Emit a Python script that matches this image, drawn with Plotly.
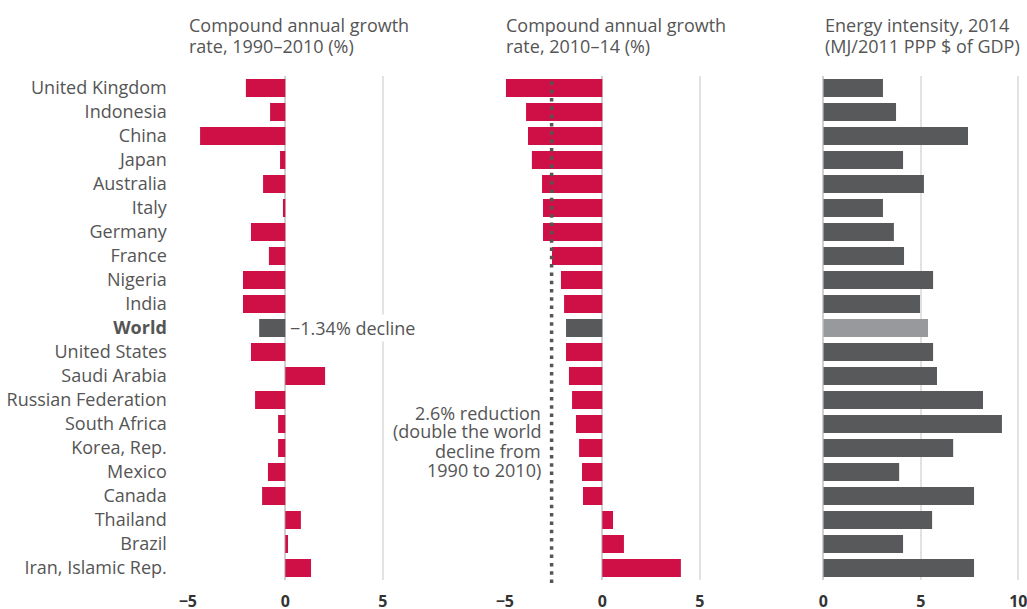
import plotly.graph_objects as go

countries = [
    "United Kingdom", "Indonesia", "China", "Japan", "Australia", "Italy",
    "Germany", "France", "Nigeria", "India", "World", "United States",
    "Saudi Arabia", "Russian Federation", "South Africa", "Korea, Rep.",
    "Mexico", "Canada", "Thailand", "Brazil", "Iran, Islamic Rep.",
]
cagr_1990_2010 = [
    -2.02, -0.78, -4.37, -0.27, -1.14, -0.12, -1.76, -0.84, -2.17, -2.17,
    -1.34, -1.76, 2.04, -1.55, -0.37, -0.37, -0.89, -1.19, 0.80, 0.14, 1.32,
]
cagr_2010_2014 = [
    -4.94, -3.91, -3.81, -3.61, -3.09, -3.04, -3.04, -2.58, -2.12, -1.96,
    -1.86, -1.86, -1.71, -1.55, -1.35, -1.19, -1.04, -0.99, 0.55, 1.11, 4.03,
]
intensity_2014 = [
    3.06, 3.73, 7.42, 4.09, 5.16, 3.06, 3.62, 4.14, 5.63, 4.96,
    5.37, 5.63, 5.83, 8.19, 9.16, 6.66, 3.89, 7.73, 5.58, 4.09, 7.73,
]
target_reduction = -2.6
world_decline = -1.34

headers = [
    ["Compound annual growth", "rate, 1990–2010 (%)"],
    ["Compound annual growth", "rate, 2010–14 (%)"],
    ["Energy intensity, 2014", "(MJ/2011 PPP $ of GDP)"],
]
target_note = ["2.6% reduction", "(double the world", "decline from", "1990 to 2010)"]
tick_vals = [[-5, 0, 5], [-5, 0, 5], [0, 5, 10]]

RED = "#CE1046"
DARK = "#58595B"
LIGHT = "#98999C"
TEXT = "#555555"
FONT = "Open Sans"
FS = 18

W, H = 1027, 609
TOP, BOTTOM = 76, 580          # plot area in pixels
PX_PER_UNIT = 19.5
zeros_px = [285.3, 602.3, 823.3]
ranges = [[-5, 6], [-5, 6], [0, 10.3]]


def domain(i):
    lo = zeros_px[i] + ranges[i][0] * PX_PER_UNIT
    hi = zeros_px[i] + ranges[i][1] * PX_PER_UNIT
    return [lo / W, hi / W]


def py(pixel_y):
    return (BOTTOM - pixel_y) / (BOTTOM - TOP)


def colors(world_color, other):
    return [world_color if c == "World" else other for c in countries]


fig = go.Figure()
for vals, xa, cols in [
    (cagr_1990_2010, "x", colors(DARK, RED)),
    (cagr_2010_2014, "x2", colors(DARK, RED)),
    (intensity_2014, "x3", colors(LIGHT, DARK)),
]:
    fig.add_trace(go.Bar(
        x=vals, y=countries, orientation="h", xaxis=xa, yaxis="y",
        marker=dict(color=cols, line_width=0), width=0.74, hoverinfo="x+y",
    ))

axis_common = dict(
    showgrid=True, gridcolor="#E2E2E2", gridwidth=1.5,
    zeroline=True, zerolinecolor="#D0D0D0", zerolinewidth=1.5,
    showline=False, ticks="", ticklabelstandoff=10, automargin=False,
    ticklabeloverflow="allow",
    tickfont=dict(family=FONT, size=16, color="#333333", weight="bold"),
    fixedrange=True,
)

ticktext = ["<b>World</b>" if c == "World" else c for c in countries]

layout = dict(
    width=W, height=H,
    margin=dict(l=0, r=0, t=TOP, b=H - BOTTOM, autoexpand=False),
    paper_bgcolor="white", plot_bgcolor="white",
    showlegend=False,
    font=dict(family=FONT, color=TEXT, size=FS),
    yaxis=dict(
        categoryorder="array", categoryarray=countries,
        autorange="reversed", showgrid=False, zeroline=False,
        tickmode="array", tickvals=countries, ticktext=ticktext,
        tickfont=dict(family=FONT, size=FS, color=TEXT),
        ticklabelstandoff=20, anchor="x", automargin=False,
        ticklabeloverflow="allow", fixedrange=True,
    ),
)
for i, key in enumerate(["xaxis", "xaxis2", "xaxis3"]):
    ax = dict(axis_common)
    ax.update(domain=domain(i), range=ranges[i], tickvals=tick_vals[i],
              ticktext=[str(v).replace("-", "−") for v in tick_vals[i]],
              anchor="y")
    layout[key] = ax
fig.update_layout(**layout)

# column headers, two lines each
header_rows_px = [25, 46]
for i, lines in enumerate(headers):
    left_px = zeros_px[i] + ranges[i][0] * PX_PER_UNIT - 0.5
    for line, ypx in zip(lines, header_rows_px):
        fig.add_annotation(
            text=line, xref="paper", yref="paper", x=left_px / W, y=py(ypx),
            xanchor="left", yanchor="middle", showarrow=False,
            font=dict(family=FONT, size=FS, color=TEXT),
        )

# world decline label
fig.add_annotation(
    text=f"−{abs(world_decline):.2f}% decline", xref="x", yref="y",
    x=0, y="World", xanchor="left", yanchor="middle", xshift=3,
    showarrow=False, bgcolor="white", borderpad=1,
    font=dict(family=FONT, size=FS, color=TEXT),
)

# dotted reference line for the 2010–14 target
fig.add_shape(
    type="line", xref="x2", yref="paper", x0=target_reduction, x1=target_reduction,
    y0=py(583), y1=py(77), layer="above",
    line=dict(color="#555555", width=3.5, dash="3.5px,4.8px"),
)
# white backing that interrupts the gridline behind the note
fig.add_shape(
    type="rect", xref="paper", yref="paper", layer="between",
    x0=410 / W, x1=545 / W, y0=py(480), y1=py(402),
    fillcolor="white", line_width=0,
)
note_rows_px = [412.5, 431.5, 450.5, 469.5]
for line, ypx in zip(target_note, note_rows_px):
    fig.add_annotation(
        text=line, xref="x2", yref="paper", x=target_reduction, y=py(ypx),
        xanchor="right", yanchor="middle", xshift=-9, showarrow=False,
        font=dict(family=FONT, size=FS, color=TEXT),
    )

fig.write_html("out.html")
